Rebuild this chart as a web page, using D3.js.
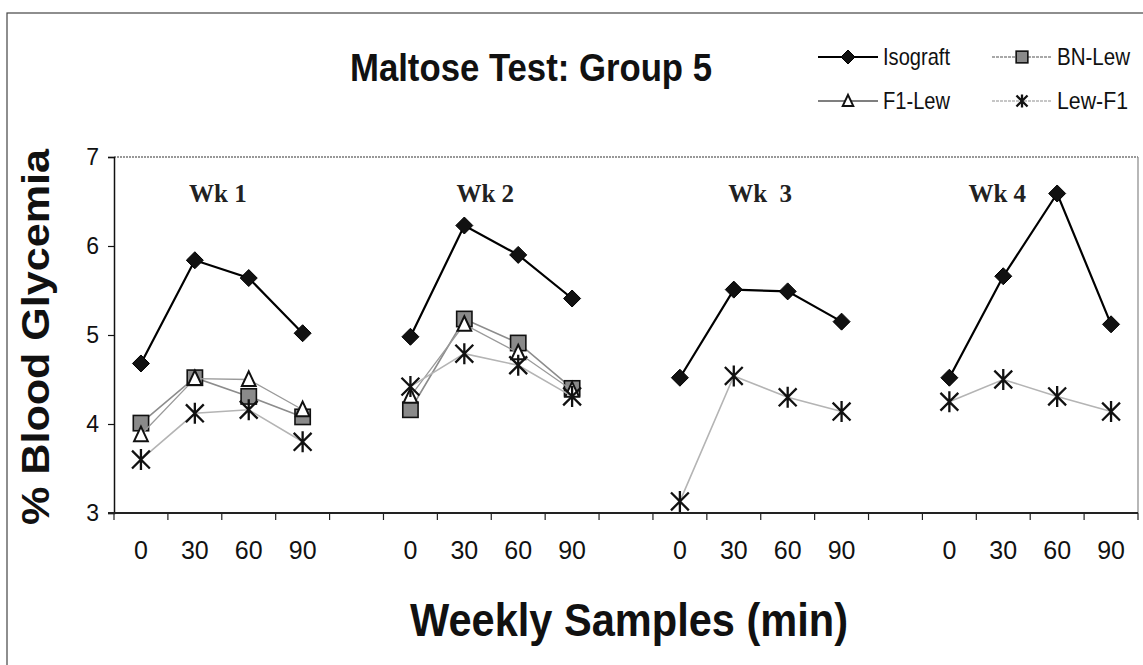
<!DOCTYPE html>
<html>
<head>
<meta charset="utf-8">
<script src="https://cdn.jsdelivr.net/npm/d3@7"></script>
<style>
  body { margin: 0; background: #fff; }
  svg { display: block; }
</style>
</head>
<body>
<div id="chart"></div>
<script>
// categories (blank slots separate the weeks)
var xLabels = ["0", "30", "60", "90", "", "0", "30", "60", "90", "", "0", "30", "60", "90", "", "0", "30", "60", "90"];
var weekLabels = ["Wk 1", "Wk 2", "Wk  3", "Wk 4"];
var yTicks = [3, 4, 5, 6, 7];

// series values (% blood glycemia)
var isograft = [4.68, 5.84, 5.64, 5.02, null, 4.98, 6.23, 5.90, 5.41, null, 4.52, 5.51, 5.49, 5.15, null, 4.52, 5.66, 6.59, 5.12];
var bnLew    = [4.01, 4.52, 4.31, 4.08, null, 4.16, 5.18, 4.91, 4.40, null, null, null, null, null, null, null, null, null, null];
var f1Lew    = [3.88, 4.51, 4.50, 4.16, null, 4.31, 5.12, 4.80, 4.38, null, null, null, null, null, null, null, null, null, null];
var lewF1    = [3.60, 4.12, 4.16, 3.80, null, 4.42, 4.79, 4.66, 4.31, null, 3.13, 4.54, 4.30, 4.14, null, 4.25, 4.50, 4.31, 4.14];

var series = [
  { name: "Isograft", values: isograft, marker: "diamond", line: "#000", lw: 2.2 },
  { name: "BN-Lew", values: bnLew, marker: "square", line: "#8c8c8c", lw: 1.6 },
  { name: "F1-Lew", values: f1Lew, marker: "triangle", line: "#9a9a9a", lw: 1.3 },
  { name: "Lew-F1", values: lewF1, marker: "star", line: "#b4b4b4", lw: 1.6 }
];

var SANS = "'Liberation Sans', Arial, sans-serif";
var SERIF = "'Liberation Serif', 'Times New Roman', serif";

var W = 1143, H = 665;
var plotLeft = 114, plotRight = 1138, plotTop = 157, plotBottom = 513;

var svg = d3.select("#chart").append("svg")
  .attr("width", W)
  .attr("height", H)
  .style("font-family", SANS);

// outer frame
svg.append("rect")
  .attr("x", 7).attr("y", 13)
  .attr("width", 1160).attr("height", 700)
  .attr("fill", "none")
  .attr("stroke", "#444")
  .attr("stroke-width", 1.2);

var x = d3.scaleBand()
  .domain(d3.range(xLabels.length))
  .range([plotLeft, plotRight])
  .padding(0);

var y = d3.scaleLinear()
  .domain([3, 7])
  .range([plotBottom, plotTop]);

// plot frame: dotted top, grey right
svg.append("line")
  .attr("x1", plotLeft).attr("x2", plotRight)
  .attr("y1", plotTop).attr("y2", plotTop)
  .attr("stroke", "#777")
  .attr("stroke-width", 1.5)
  .attr("stroke-dasharray", "2,1");
svg.append("line")
  .attr("x1", plotRight).attr("x2", plotRight)
  .attr("y1", plotTop).attr("y2", plotBottom)
  .attr("stroke", "#888")
  .attr("stroke-width", 1.2);

// y axis
var yAxis = svg.append("g")
  .attr("transform", "translate(" + plotLeft + ",0)")
  .call(d3.axisLeft(y).tickValues(yTicks).tickSize(6).tickPadding(9).tickFormat(d3.format("d")));
yAxis.select(".domain").attr("stroke", "#111").attr("stroke-width", 1.5);
yAxis.selectAll(".tick line").attr("stroke", "#111").attr("stroke-width", 1.2);
yAxis.selectAll("text")
  .style("font-size", "23px")
  .style("font-family", SANS)
  .attr("fill", "#111");

// x axis: labels from the band scale, ticks on category boundaries
var xAxis = svg.append("g")
  .attr("transform", "translate(0," + plotBottom + ")")
  .call(d3.axisBottom(x).tickSize(0).tickPadding(28).tickFormat(function(i) { return xLabels[i]; }));
xAxis.select(".domain").remove();
xAxis.selectAll("text")
  .style("font-size", "25px")
  .style("font-family", SANS)
  .attr("fill", "#111");

svg.append("g").selectAll("line")
  .data(d3.range(xLabels.length + 1))
  .enter().append("line")
  .attr("x1", function(i) { return plotLeft + i * x.step(); })
  .attr("x2", function(i) { return plotLeft + i * x.step(); })
  .attr("y1", plotBottom)
  .attr("y2", plotBottom + 7)
  .attr("stroke", "#222")
  .attr("stroke-width", 1.2);

svg.append("line")
  .attr("x1", plotLeft - 6).attr("x2", plotRight)
  .attr("y1", plotBottom).attr("y2", plotBottom)
  .attr("stroke", "#222")
  .attr("stroke-width", 2);

// week labels
var weekShift = [0.04, 0, 0.1, -0.5]; // in category steps, relative to the group's middle
svg.selectAll(".wk")
  .data(weekLabels)
  .enter().append("text")
  .attr("class", "wk")
  .attr("x", function(d, i) { return x(i * 5 + 1) + x.bandwidth() / 2 + (0.5 + weekShift[i]) * x.step() - 6; })
  .attr("y", y(6.49))
  .attr("text-anchor", "middle")
  .attr("fill", "#222")
  .style("font-family", SERIF)
  .style("font-weight", "bold")
  .style("font-size", "25px")
  .style("white-space", "pre")
  .text(function(d) { return d; });

// markers
function drawMarker(g, type, size) {
  var s = size / 2;
  if (type === "diamond") {
    g.append("path")
      .attr("d", "M0," + (-s) + "L" + s + ",0L0," + s + "L" + (-s) + ",0Z")
      .attr("fill", "#111").attr("stroke", "#000").attr("stroke-width", 1);
  } else if (type === "square") {
    var q = s * 0.9;
    g.append("rect")
      .attr("x", -q).attr("y", -q).attr("width", 2 * q).attr("height", 2 * q)
      .attr("fill", "#8a8a8a").attr("stroke", "#111").attr("stroke-width", 1.6);
  } else if (type === "triangle") {
    var t = s * 0.95;
    g.append("path")
      .attr("d", "M0," + (-t) + "L" + (t * 0.85) + "," + (t * 0.8) + "L" + (-t * 0.85) + "," + (t * 0.8) + "Z")
      .attr("fill", "#fff").attr("stroke", "#111").attr("stroke-width", 2);
  } else if (type === "star") {
    var a = s * 0.85;
    g.append("path")
      .attr("d", "M" + (-a) + "," + (-a) + "L" + a + "," + a +
                 "M" + a + "," + (-a) + "L" + (-a) + "," + a +
                 "M0," + (-s) + "L0," + s)
      .attr("fill", "none").attr("stroke", "#111").attr("stroke-width", 2.3);
  }
}

var line = d3.line()
  .defined(function(d) { return d != null; })
  .x(function(d, i) { return x(i) + x.bandwidth() / 2; })
  .y(function(d) { return y(d); });

series.forEach(function(s) {
  svg.append("path")
    .datum(s.values)
    .attr("fill", "none")
    .attr("stroke", s.line)
    .attr("stroke-width", s.lw)
    .attr("d", line);

  s.values.forEach(function(v, i) {
    if (v == null) return;
    var g = svg.append("g")
      .attr("transform", "translate(" + (x(i) + x.bandwidth() / 2) + "," + y(v) + ")");
    drawMarker(g, s.marker, s.marker === "star" ? 21 : 17);
  });
});

// title
svg.append("text")
  .attr("x", 350)
  .attr("y", 81)
  .attr("fill", "#111")
  .style("font-size", "39px")
  .style("font-weight", "bold")
  .attr("textLength", 362)
  .attr("lengthAdjust", "spacingAndGlyphs")
  .text("Maltose Test: Group 5");

// legend
var legendPos = [
  { lx: 818, ly: 57, tw: 67 },
  { lx: 992, ly: 57, tw: 73 },
  { lx: 818, ly: 101, tw: 67 },
  { lx: 992, ly: 101, tw: 71 }
];
series.forEach(function(s, i) {
  var p = legendPos[i];
  var lg = svg.append("g").attr("transform", "translate(" + p.lx + "," + p.ly + ")");
  lg.append("line")
    .attr("x1", 0).attr("x2", 60)
    .attr("y1", 0).attr("y2", 0)
    .attr("stroke", i === 2 ? "#555" : s.line)
    .attr("stroke-width", s.lw)
    .attr("stroke-dasharray", i === 1 || i === 3 ? "3,1" : null);
  var m = lg.append("g").attr("transform", "translate(30,0)");
  drawMarker(m, s.marker, s.marker === "diamond" ? 14 : 13);
  lg.append("text")
    .attr("x", 65)
    .attr("y", 8)
    .attr("fill", "#111")
    .style("font-size", "24px")
    .attr("textLength", p.tw)
    .attr("lengthAdjust", "spacingAndGlyphs")
    .text(s.name);
});

// axis titles
svg.append("text")
  .attr("transform", "translate(49," + ((plotTop + plotBottom) / 2 + 2) + ")rotate(-90)")
  .attr("text-anchor", "middle")
  .attr("fill", "#111")
  .style("font-size", "38px")
  .style("font-weight", "bold")
  .attr("textLength", 376)
  .attr("lengthAdjust", "spacingAndGlyphs")
  .text("% Blood Glycemia");

svg.append("text")
  .attr("x", 410)
  .attr("y", 636)
  .attr("fill", "#111")
  .style("font-size", "46px")
  .style("font-weight", "bold")
  .attr("textLength", 438)
  .attr("lengthAdjust", "spacingAndGlyphs")
  .text("Weekly Samples (min)");
</script>
</body>
</html>
